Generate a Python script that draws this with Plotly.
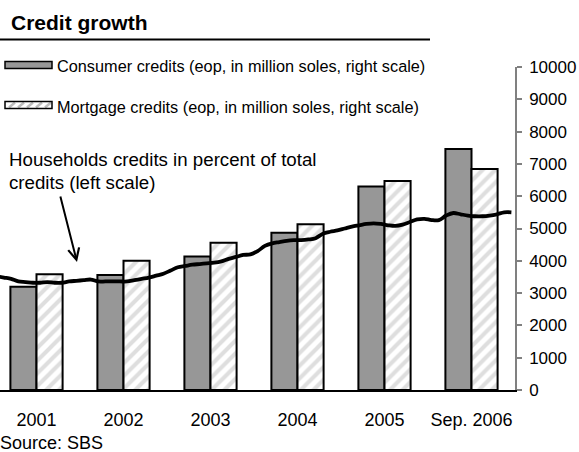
import plotly.graph_objects as go
import pandas as pd

# ---- data ---------------------------------------------------------------
years = ["2001", "2002", "2003", "2004", "2005", "Sep. 2006"]
consumer_credits = [3200, 3560, 4130, 4870, 6300, 7460]   # million soles, eop
mortgage_credits = [3580, 4000, 4560, 5130, 6470, 6840]   # million soles, eop

months = pd.period_range("2000-10", "2006-09", freq="M").strftime("%b %Y").tolist()
household_share = [
    17.6, 17.4, 17.2, 16.8, 16.7, 16.6, 16.6, 16.7, 16.6, 16.6,
    16.8, 16.9, 17.0, 17.1, 16.8, 16.8, 16.8, 16.8, 16.8, 17.0,
    17.2, 17.4, 17.7, 18.0, 18.5, 19.0, 19.2, 19.4, 19.5, 19.6,
    19.7, 19.9, 20.3, 20.6, 20.9, 21.0, 21.5, 22.3, 22.7, 22.9,
    23.1, 23.2, 23.2, 23.3, 23.5, 24.2, 24.5, 24.7, 25.0, 25.3,
    25.5, 25.7, 25.8, 25.7, 25.5, 25.4, 25.6, 26.0, 26.4, 26.5,
    26.3, 26.3, 27.0, 27.4, 27.2, 27.0, 26.9, 26.9, 27.0, 27.2,
    27.5, 27.5,
]  # percent of total credits

right_ticks = list(range(0, 10001, 1000))
right_tick_text = [str(v) for v in right_ticks]

# ---- geometry helpers (pixel -> paper) -----------------------------------
W, H = 579, 452
L, R, T, B = 0, 515, 67, 390
CUT = 7  # part of the plot area hidden beyond the left edge


def px(x):
    return (x - L) / (R - L)


def py(y):
    return (B - y) / (B - T)


FONT = "Liberation Sans, Arial, sans-serif"
INK = "#000000"
HATCH = "#bdbdbd"

fig = go.Figure()

fig.add_trace(go.Bar(
    x=years, y=consumer_credits,
    name="Consumer credits (eop, in million soles, right scale)",
    marker=dict(color="#979797", line=dict(color=INK, width=2)),
    xaxis="x", yaxis="y",
))
fig.add_trace(go.Bar(
    x=years, y=mortgage_credits,
    name="Mortgage credits (eop, in million soles, right scale)",
    marker=dict(
        color="white",
        line=dict(color=INK, width=2),
        pattern=dict(shape="/", fgcolor=HATCH, bgcolor="white",
                     size=9, solidity=0.45),
    ),
    xaxis="x", yaxis="y",
))
fig.add_trace(go.Scatter(
    x=months, y=household_share,
    name="Households credits in percent of total credits (left scale)",
    mode="lines",
    line=dict(color=INK, width=3.8, shape="spline", smoothing=1.0),
    xaxis="x2", yaxis="y2",
))

n_cat = len(years)
n_m = len(months)
cat_px = (R - L + CUT) / n_cat
m_px = (R - L + CUT) / n_m


def note(text, x, y, size, **kw):
    return dict(text=text, x=px(x), y=py(y), xref="paper", yref="paper",
                xanchor="left", yanchor="middle", showarrow=False,
                font=dict(size=size, color=INK, family=FONT), **kw)


annotations = [
    note("<b>Credit growth</b>", 9, 23, 21),
    note("Consumer credits (eop, in million soles, right scale)", 55, 66, 16.3),
    note("Mortgage credits (eop, in million soles, right scale)", 55, 107, 16.3),
    note("Households credits in percent of total", 7, 159, 18.7),
    note("credits (left scale)", 7, 182, 18.7),
    note("Source: SBS", -2, 443, 18),
    dict(text="", x=px(77), y=py(262), xref="paper", yref="paper",
         ax=60 - 77, ay=195 - 262, showarrow=True, arrowhead=5,
         arrowsize=1.1, arrowwidth=2, arrowcolor=INK, standoff=0),
]

shapes = [
    # rule under the title
    dict(type="line", xref="paper", yref="paper", x0=px(0), x1=px(430),
         y0=py(39.5), y1=py(39.5), line=dict(color=INK, width=2)),
    # consumer credits key
    dict(type="rect", xref="paper", yref="paper", x0=px(5), x1=px(52),
         y0=py(68.5), y1=py(61.5), fillcolor="#979797",
         line=dict(color=INK, width=1.5)),
    # mortgage credits key (white with light diagonal hatching)
    dict(type="rect", xref="paper", yref="paper", x0=px(5), x1=px(52),
         y0=py(108.5), y1=py(101.5), fillcolor="white",
         line=dict(color=INK, width=0)),
]
for k in range(5):
    x0 = 9 + 9 * k
    shapes.append(dict(type="line", xref="paper", yref="paper",
                       x0=px(x0), x1=px(x0 + 6), y0=py(107.5), y1=py(102.5),
                       line=dict(color=HATCH, width=2.5)))
shapes.append(dict(type="rect", xref="paper", yref="paper", x0=px(5), x1=px(52),
                   y0=py(108.5), y1=py(101.5), fillcolor="rgba(0,0,0,0)",
                   line=dict(color=INK, width=1.5)))

fig.update_layout(
    width=W, height=H,
    margin=dict(l=L, r=W - R, t=T, b=H - B, pad=0, autoexpand=False),
    paper_bgcolor="white", plot_bgcolor="white",
    showlegend=False,
    barmode="group", bargap=0.4, bargroupgap=0.0,
    font=dict(family=FONT, color=INK, size=16),
    xaxis=dict(
        type="category", range=[-0.5 + CUT / cat_px, n_cat - 0.5],
        showline=True, linecolor=INK, linewidth=1.5,
        ticks="", showgrid=False, zeroline=False,
        tickfont=dict(size=18, color=INK, family=FONT),
        ticklabelstandoff=13,
    ),
    yaxis=dict(
        side="right", range=[0, 10000],
        tickvals=right_ticks, ticktext=right_tick_text,
        showline=True, linecolor="#808080", linewidth=1.5,
        ticks="outside", ticklen=5, tickwidth=1.5, tickcolor="#808080",
        showgrid=False, zeroline=False,
        tickfont=dict(size=17, color=INK, family=FONT),
        ticklabelstandoff=4,
    ),
    xaxis2=dict(
        type="category", overlaying="x", anchor="y2",
        range=[-0.5 + CUT / m_px, n_m - 0.5], visible=False,
    ),
    yaxis2=dict(
        overlaying="y", side="left", anchor="x2", range=[0, 50], visible=False,
    ),
    annotations=annotations,
    shapes=shapes,
)

fig.write_html("out.html")
